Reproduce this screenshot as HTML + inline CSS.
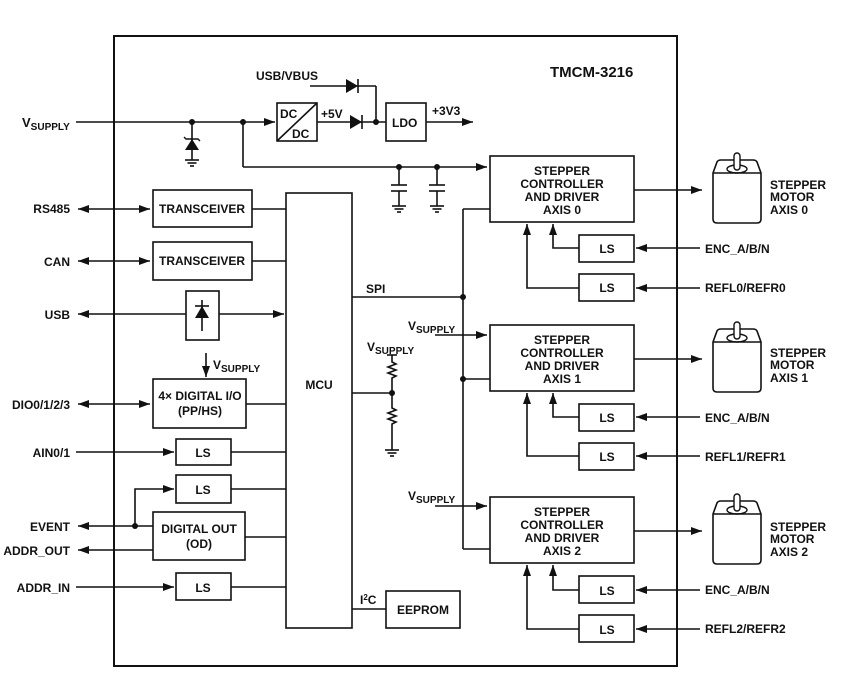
<!DOCTYPE html>
<html><head><meta charset="utf-8"><style>
html,body{margin:0;padding:0;background:#fff;}
svg{display:block;}
text{font-family:"Liberation Sans",Arial,sans-serif;font-weight:bold;fill:#111;}
</style></head><body>
<svg width="854" height="696" viewBox="0 0 854 696" xmlns="http://www.w3.org/2000/svg">
<defs>
<marker id="a" markerUnits="userSpaceOnUse" markerWidth="12" markerHeight="10" refX="11" refY="4" orient="auto-start-reverse"><path d="M0,0 L11,4 L0,8 Z" fill="#111"/></marker>
<g id="gnd"><line x1="-7" y1="0" x2="7" y2="0"/><line x1="-4.5" y1="3" x2="4.5" y2="3"/><line x1="-2" y1="6" x2="2" y2="6"/></g>
<g id="motor"><path d="M0,20 L0,66 Q0,70 4,70 L44,70 Q48,70 48,66 L48,20 L44,9 Q43,7 40,7 L8,7 Q5,7 4,9 Z" fill="#fff" stroke="#111" stroke-width="1.6"/><line x1="0" y1="20" x2="48" y2="20" stroke="#111" stroke-width="1.4"/><ellipse cx="24" cy="16" rx="10" ry="4" fill="none" stroke="#111" stroke-width="1.4"/><rect x="21" y="0" width="6" height="17" rx="3" fill="#fff" stroke="#111" stroke-width="1.4"/></g>
</defs>
<g stroke="#111" stroke-width="1.6" fill="none">
<rect x="114" y="36" width="563" height="630" stroke-width="2"/>
<line x1="76" y1="122" x2="275" y2="122" marker-end="url(#a)"/>
<line x1="192" y1="122" x2="192" y2="160"/>
<line x1="243" y1="122" x2="243" y2="167"/>
<line x1="243" y1="167" x2="487" y2="167" marker-end="url(#a)"/>
<rect x="277" y="103" width="40" height="38"/>
<line x1="277" y1="141" x2="317" y2="103"/>
<line x1="317" y1="122" x2="386" y2="122"/>
<line x1="310" y1="86" x2="376" y2="86"/>
<line x1="376" y1="86" x2="376" y2="122"/>
<line x1="358" y1="79" x2="358" y2="93"/>
<line x1="362" y1="115" x2="362" y2="129"/>
<rect x="386" y="103" width="40" height="38"/>
<line x1="426" y1="122" x2="473" y2="122" marker-end="url(#a)"/>
<line x1="399" y1="167" x2="399" y2="185"/><line x1="391" y1="185" x2="407" y2="185"/><line x1="391" y1="191" x2="407" y2="191"/><line x1="399" y1="191" x2="399" y2="206"/>
<line x1="437" y1="167" x2="437" y2="185"/><line x1="429" y1="185" x2="445" y2="185"/><line x1="429" y1="191" x2="445" y2="191"/><line x1="437" y1="191" x2="437" y2="206"/>
<use href="#gnd" x="399" y="206"/><use href="#gnd" x="437" y="206"/><use href="#gnd" x="192" y="160"/>
<rect x="490" y="156" width="144" height="66"/>
<rect x="490" y="325" width="144" height="66"/>
<rect x="490" y="497" width="144" height="66"/>
<line x1="463" y1="209" x2="463" y2="549"/>
<line x1="463" y1="209" x2="490" y2="209"/>
<line x1="463" y1="379" x2="490" y2="379"/>
<line x1="463" y1="549" x2="490" y2="549"/>
<line x1="352" y1="297" x2="463" y2="297"/>
<line x1="435" y1="335" x2="487" y2="335" marker-end="url(#a)"/>
<line x1="435" y1="506" x2="487" y2="506" marker-end="url(#a)"/>
<line x1="634" y1="190" x2="702" y2="190" marker-end="url(#a)"/>
<line x1="634" y1="359" x2="702" y2="359" marker-end="url(#a)"/>
<line x1="634" y1="531" x2="702" y2="531" marker-end="url(#a)"/>
<g>
<rect x="579" y="235" width="55" height="27"/><rect x="579" y="274" width="55" height="27"/>
<line x1="700" y1="248" x2="636" y2="248" marker-end="url(#a)"/><line x1="700" y1="288" x2="636" y2="288" marker-end="url(#a)"/>
<polyline points="579,248 553,248 553,224" marker-end="url(#a)"/><polyline points="579,288 527,288 527,224" marker-end="url(#a)"/>
</g>
<g>
<rect x="579" y="404" width="55" height="27"/><rect x="579" y="443" width="55" height="27"/>
<line x1="700" y1="417" x2="636" y2="417" marker-end="url(#a)"/><line x1="700" y1="456" x2="636" y2="456" marker-end="url(#a)"/>
<polyline points="579,417 553,417 553,393" marker-end="url(#a)"/><polyline points="579,456 527,456 527,393" marker-end="url(#a)"/>
</g>
<g>
<rect x="579" y="576" width="55" height="27"/><rect x="579" y="615" width="55" height="27"/>
<line x1="700" y1="590" x2="636" y2="590" marker-end="url(#a)"/><line x1="700" y1="629" x2="636" y2="629" marker-end="url(#a)"/>
<polyline points="579,590 553,590 553,565" marker-end="url(#a)"/><polyline points="579,629 527,629 527,565" marker-end="url(#a)"/>
</g>
<rect x="286" y="193" width="66" height="435"/>
<rect x="153" y="190" width="99" height="37"/>
<rect x="153" y="242" width="99" height="38"/>
<rect x="186" y="291" width="33" height="49"/>
<rect x="153" y="379" width="93" height="49"/>
<rect x="176" y="439" width="55" height="26"/>
<rect x="176" y="475" width="55" height="28"/>
<rect x="153" y="512" width="92" height="48"/>
<rect x="176" y="573" width="55" height="27"/>
<rect x="386" y="591" width="74" height="37"/>
<line x1="78" y1="209" x2="150" y2="209" marker-start="url(#a)" marker-end="url(#a)"/>
<line x1="78" y1="261" x2="150" y2="261" marker-start="url(#a)" marker-end="url(#a)"/>
<line x1="78" y1="314" x2="186" y2="314" marker-start="url(#a)"/>
<line x1="219" y1="314" x2="284" y2="314" marker-end="url(#a)"/>
<line x1="202" y1="300" x2="202" y2="331"/>
<line x1="195" y1="306" x2="209" y2="306"/>
<line x1="78" y1="404" x2="150" y2="404" marker-start="url(#a)" marker-end="url(#a)"/>
<line x1="206" y1="353" x2="206" y2="377" marker-end="url(#a)"/>
<line x1="76" y1="452" x2="174" y2="452" marker-end="url(#a)"/>
<line x1="78" y1="526" x2="153" y2="526" marker-start="url(#a)"/>
<polyline points="135,526 135,489 174,489" marker-end="url(#a)"/>
<line x1="78" y1="550" x2="153" y2="550" marker-start="url(#a)"/>
<line x1="76" y1="587" x2="174" y2="587" marker-end="url(#a)"/>
<line x1="252" y1="209" x2="286" y2="209"/><line x1="252" y1="261" x2="286" y2="261"/>
<line x1="246" y1="404" x2="286" y2="404"/><line x1="231" y1="452" x2="286" y2="452"/>
<line x1="231" y1="489" x2="286" y2="489"/><line x1="245" y1="537" x2="286" y2="537"/>
<line x1="231" y1="587" x2="286" y2="587"/>
<line x1="352" y1="609" x2="386" y2="609"/>
<line x1="387" y1="355" x2="397" y2="355"/>
<polyline points="392,355 392,362 396,364 388,367 396,370 388,373 396,376 392,378 392,408 396,410 388,413 396,416 388,419 396,422 392,424 392,450"/>
<line x1="352" y1="393" x2="392" y2="393"/>
<use href="#gnd" x="392" y="450"/>
</g>
<g fill="#111">
<polygon points="346,79 346,93 358,86"/>
<polygon points="350,115 350,129 362,122"/>
<polygon points="185,150 199,150 192,139"/><polyline points="184,137 186,139 198,139 200,141" fill="none" stroke="#111" stroke-width="1.4"/>
<polygon points="195,318 209,318 202,306"/>
<circle cx="192" cy="122" r="3"/><circle cx="243" cy="122" r="3"/><circle cx="376" cy="122" r="3"/>
<circle cx="399" cy="167" r="3"/><circle cx="437" cy="167" r="3"/>
<circle cx="463" cy="297" r="3"/><circle cx="463" cy="379" r="3"/><circle cx="392" cy="393" r="3"/><circle cx="135" cy="526" r="3"/>
</g>
<use href="#motor" x="713" y="153"/><use href="#motor" x="713" y="322"/><use href="#motor" x="713" y="494"/>
<g font-size="12">
<text x="550" y="77" font-size="15">TMCM-3216</text>
<text x="256" y="80">USB/VBUS</text>
<text x="280" y="118">DC</text><text x="292" y="138">DC</text>
<text x="321" y="118">+5V</text>
<text x="392" y="127">LDO</text>
<text x="432" y="115">+3V3</text>
<text x="22" y="127" font-size="13">V<tspan font-size="10" dy="3">SUPPLY</tspan></text>
<g text-anchor="end"><text x="70" y="213">RS485</text><text x="70" y="266">CAN</text><text x="70" y="319">USB</text><text x="70" y="409">DIO0/1/2/3</text><text x="70" y="457">AIN0/1</text><text x="70" y="531">EVENT</text><text x="70" y="555">ADDR_OUT</text><text x="70" y="592">ADDR_IN</text></g>
<g text-anchor="middle"><text x="202" y="213">TRANSCEIVER</text><text x="202" y="265">TRANSCEIVER</text>
<text x="200" y="400">4× DIGITAL I/O</text><text x="200" y="415">(PP/HS)</text>
<text x="203" y="457">LS</text><text x="203" y="494">LS</text><text x="203" y="592">LS</text>
<text x="199" y="533">DIGITAL OUT</text><text x="199" y="548">(OD)</text>
<text x="319" y="389">MCU</text><text x="423" y="614">EEPROM</text>
<g font-size="12"><text x="562" y="175">STEPPER</text><text x="562" y="188">CONTROLLER</text><text x="562" y="201">AND DRIVER</text><text x="562" y="214">AXIS 0</text>
<text x="562" y="344">STEPPER</text><text x="562" y="357">CONTROLLER</text><text x="562" y="370">AND DRIVER</text><text x="562" y="383">AXIS 1</text>
<text x="562" y="516">STEPPER</text><text x="562" y="529">CONTROLLER</text><text x="562" y="542">AND DRIVER</text><text x="562" y="555">AXIS 2</text></g>
<text x="607" y="253">LS</text><text x="607" y="292">LS</text><text x="607" y="422">LS</text><text x="607" y="461">LS</text><text x="607" y="595">LS</text><text x="607" y="634">LS</text></g>
<text x="213" y="369">V<tspan font-size="10" dy="3">SUPPLY</tspan></text>
<text x="366" y="293">SPI</text>
<text x="367" y="351">V<tspan font-size="10" dy="3">SUPPLY</tspan></text>
<text x="408" y="330">V<tspan font-size="10" dy="3">SUPPLY</tspan></text>
<text x="408" y="500">V<tspan font-size="10" dy="3">SUPPLY</tspan></text>
<text x="360" y="604">I<tspan font-size="8" dy="-4">2</tspan><tspan dy="4">C</tspan></text>
<g font-size="12"><text x="705" y="253">ENC_A/B/N</text><text x="705" y="292">REFL0/REFR0</text><text x="705" y="422">ENC_A/B/N</text><text x="705" y="461">REFL1/REFR1</text><text x="705" y="594">ENC_A/B/N</text><text x="705" y="633">REFL2/REFR2</text>
<text x="770" y="189">STEPPER</text><text x="770" y="201">MOTOR</text><text x="770" y="214">AXIS 0</text>
<text x="770" y="357">STEPPER</text><text x="770" y="369">MOTOR</text><text x="770" y="382">AXIS 1</text>
<text x="770" y="531">STEPPER</text><text x="770" y="543">MOTOR</text><text x="770" y="556">AXIS 2</text></g>
</g>
</svg>
</body></html>
